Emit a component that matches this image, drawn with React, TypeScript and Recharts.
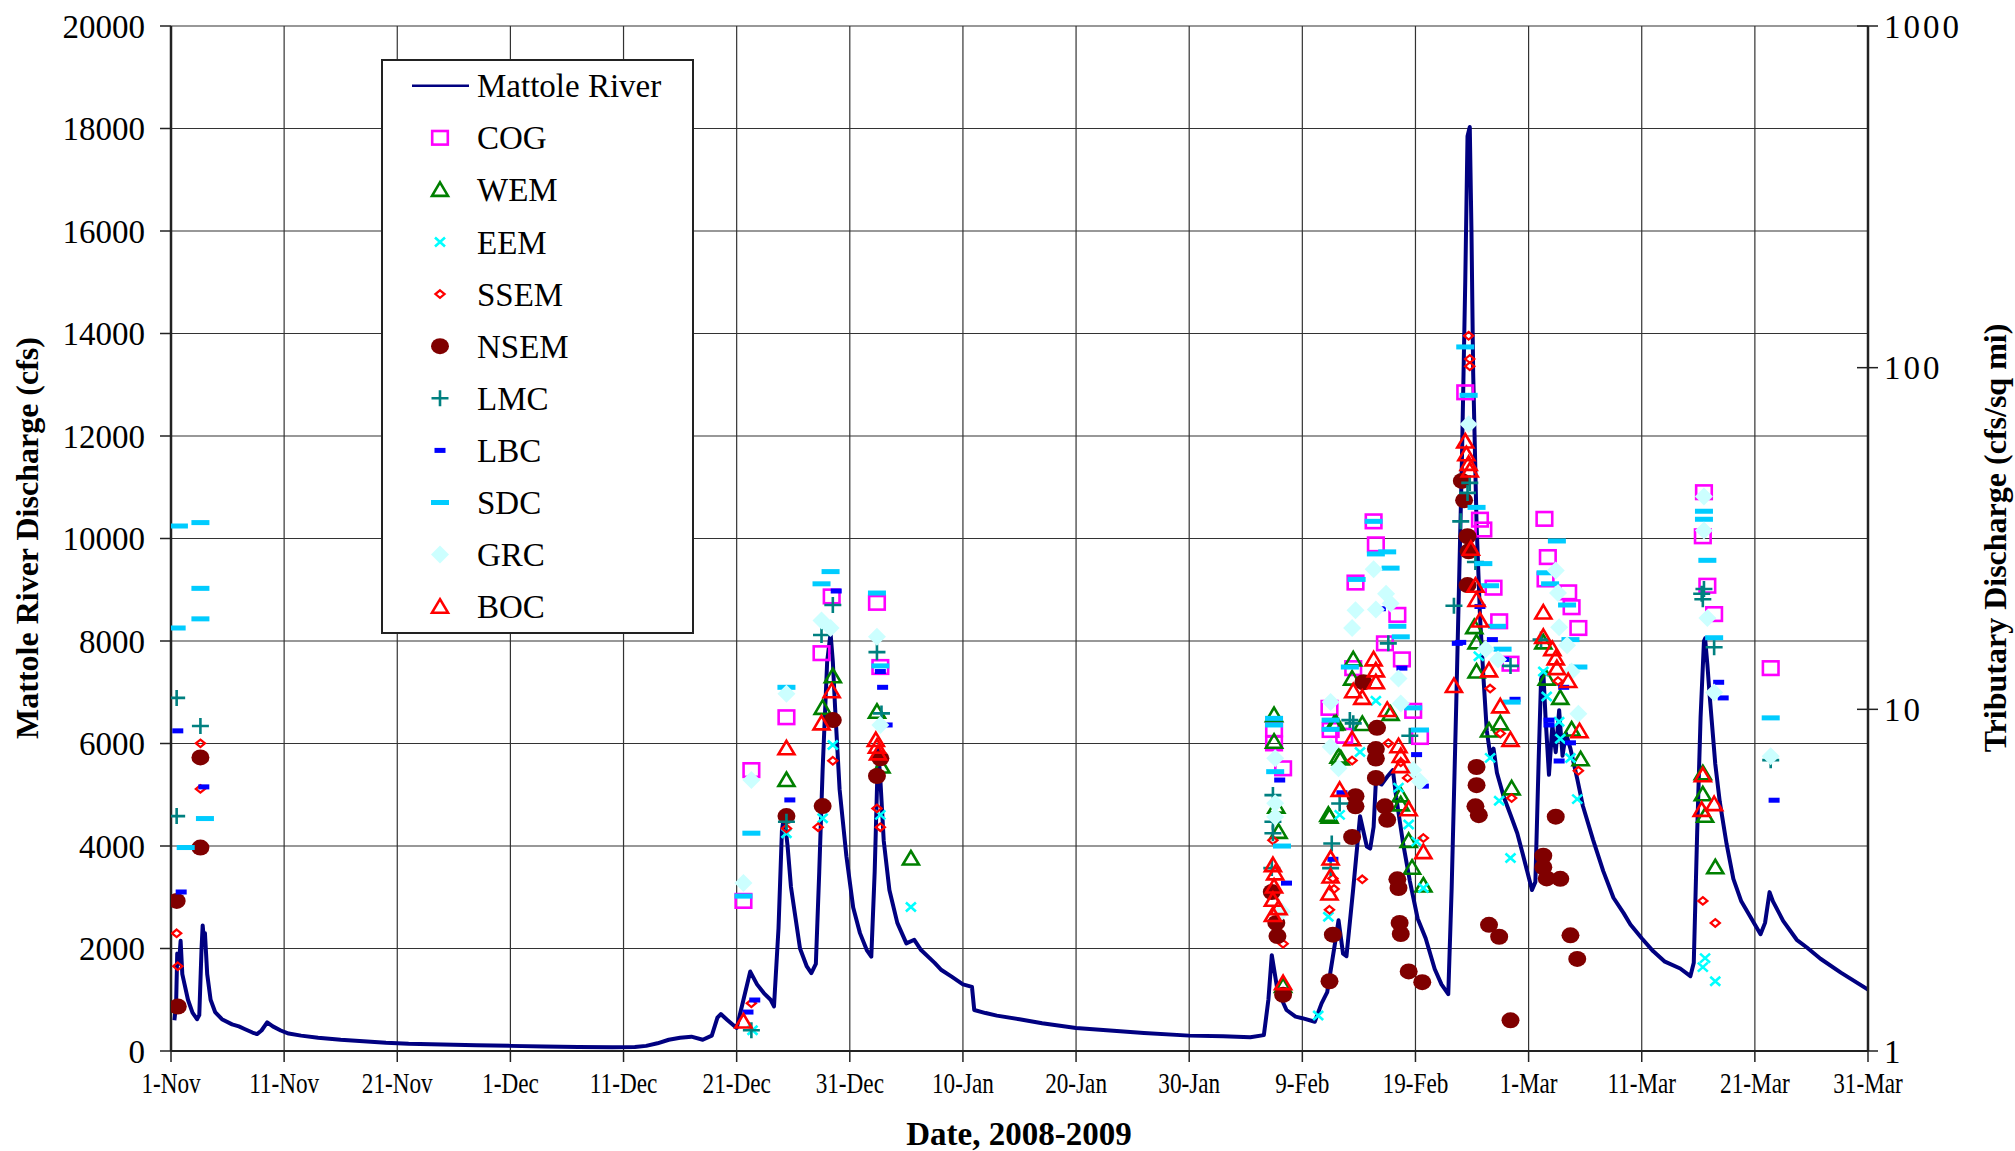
import React from "react";
import {
  ComposedChart,
  Line,
  Scatter,
  XAxis,
  YAxis,
  CartesianGrid,
  Legend,
} from "recharts";

const W = 2015;
const H = 1151;
const FONT = '"Liberation Serif", "Times New Roman", serif';

// x is days after 1-Nov-2008
const dateTicks = [0, 10, 20, 30, 40, 50, 60, 70, 80, 90, 100, 110, 120, 130, 140, 150];
const dateLabels = [
  "1-Nov", "11-Nov", "21-Nov", "1-Dec", "11-Dec", "21-Dec", "31-Dec", "10-Jan",
  "20-Jan", "30-Jan", "9-Feb", "19-Feb", "1-Mar", "11-Mar", "21-Mar", "31-Mar",
];
const flowTicks = [0, 2000, 4000, 6000, 8000, 10000, 12000, 14000, 16000, 18000, 20000];
const tribTicks = [1, 10, 100, 1000];

// Mattole River discharge (cfs): [day, flow]
const mattoleRiver: [number, number][] = [
  [0.3, 600], [0.45, 900], [0.55, 1900], [0.7, 1700], [0.85, 2150], [1.0, 1500], [1.2, 1300],
  [1.5, 1000], [1.9, 750], [2.3, 620], [2.5, 700], [2.7, 2000], [2.8, 2450], [2.9, 2200],
  [3.0, 2300], [3.2, 1500], [3.5, 1000], [3.9, 760], [4.5, 620], [5.4, 520], [6.0, 480],
  [6.5, 430], [7.2, 360], [7.6, 330], [8.0, 400], [8.5, 560], [9.0, 480], [9.7, 400],
  [10.4, 340], [11.5, 300], [13.0, 260], [15, 220], [17, 190], [19, 160], [21, 140],
  [23, 130], [25, 120], [27, 110], [30, 100], [33, 90], [36, 80], [39, 75], [41, 80],
  [42, 100], [43, 150], [44, 220], [45, 260], [46, 280], [47, 220], [47.8, 300], [48.3, 650],
  [48.6, 720], [49.2, 600], [50.0, 450], [50.6, 1000], [51.2, 1550], [51.8, 1300], [52.4, 1130],
  [53.0, 1000], [53.3, 870], [53.7, 2400], [54.0, 4300], [54.2, 4600], [54.5, 4000], [54.8, 3200],
  [55.2, 2600], [55.6, 2000], [56.2, 1650], [56.6, 1520], [57.0, 1700], [57.3, 3500], [57.6, 5500],
  [58.0, 7600], [58.3, 8150], [58.5, 7600], [58.7, 6700], [59.1, 5100], [59.7, 3800], [60.3, 2800],
  [60.9, 2300], [61.5, 1970], [61.9, 1840], [62.2, 3500], [62.5, 5900], [62.7, 5300], [63.0, 4100],
  [63.5, 3140], [64.2, 2500], [65.0, 2100], [65.7, 2170], [66.3, 1970], [67.5, 1720], [68.1, 1580],
  [69.0, 1450], [70.0, 1300], [70.8, 1250], [71.0, 800], [72, 740], [73, 690], [75, 620],
  [77, 540], [80, 450], [83, 400], [86, 350], [90, 300], [93, 290], [95.4, 270], [96.6, 310],
  [97.0, 1000], [97.3, 1870], [97.8, 1190], [98.6, 800], [99.4, 670], [100.0, 640], [101.1, 570],
  [101.7, 930], [102.2, 1150], [102.9, 2120], [103.2, 2550], [103.6, 1900], [103.9, 1850],
  [104.5, 3170], [105.1, 4580], [105.7, 3990], [106.0, 3950], [106.3, 4370], [106.5, 5260],
  [107.0, 5200], [107.5, 5350], [108.0, 5480], [108.3, 4950], [108.9, 4060], [109.5, 3320],
  [110.2, 2580], [110.9, 2200], [111.7, 1600], [112.3, 1300], [112.9, 1110], [113.2, 3180],
  [113.6, 6730], [114.1, 11460], [114.4, 15000], [114.6, 17850], [114.8, 18030], [114.95, 16000],
  [115.1, 13240], [115.4, 10280], [115.7, 8510], [116.0, 7320], [116.3, 6260], [116.6, 5790],
  [116.9, 5900], [117.2, 5430], [117.8, 4960], [118.4, 4610], [119.0, 4250], [119.5, 3830],
  [120.0, 3400], [120.3, 3140], [120.6, 3300], [120.9, 5760], [121.1, 7250], [121.3, 7400],
  [121.5, 6500], [121.8, 5390], [122.1, 6350], [122.4, 5830], [122.7, 6650], [123.0, 5760],
  [123.3, 6200], [123.7, 5900], [124.3, 5310], [124.8, 4780], [125.7, 4120], [126.6, 3510],
  [127.5, 2990], [128.4, 2690], [129.0, 2470], [130, 2200], [131, 1950], [132, 1750],
  [133.4, 1610], [134.3, 1460], [134.6, 1720], [134.9, 4260], [135.2, 6500], [135.5, 8000],
  [135.6, 8050], [135.8, 7550], [136.0, 6950], [136.5, 5600], [136.9, 4860], [137.5, 4040],
  [138.1, 3360], [138.8, 2920], [139.6, 2620], [140.5, 2280], [140.9, 2500], [141.3, 3100],
  [141.6, 2920], [142.5, 2540], [143.7, 2170], [144.6, 2020], [145.8, 1800], [147.6, 1530],
  [150, 1200],
];

// tributary discharge (cfs/sq mi): [day, value]
const COG: [number, number][] = [
  [50.6, 2.75], [51.3, 6.64], [54.4, 9.48], [58.4, 21.4], [57.5, 14.6], [62.4, 20.5], [62.7, 13.3],
  [97.5, 8.74], [97.5, 7.95], [98.3, 6.72], [102.4, 10.1], [102.5, 8.7],
  [106.3, 35.5], [106.5, 30.4], [104.7, 23.5], [108.4, 18.9], [107.3, 15.6], [108.8, 14.0],
  [104.5, 13.2], [109.8, 9.9], [103.7, 8.37], [110.4, 8.3],
  [114.4, 84.7], [115.7, 35.9], [116.0, 33.6], [116.9, 22.7], [117.4, 18.1], [118.4, 13.6],
  [121.4, 36.1], [121.7, 27.9], [121.5, 24.0], [123.5, 22.0], [123.8, 19.9], [124.4, 17.3],
  [135.5, 43.2], [135.4, 32.1], [135.8, 23.0], [136.4, 19.0], [141.4, 13.2],
];
const WEM: [number, number][] = [
  [54.4, 6.21], [58.5, 12.5], [57.6, 10.1], [62.4, 9.84], [62.8, 6.8], [65.4, 3.66],
  [97.5, 9.62], [97.5, 8.04], [97.7, 5.19], [97.9, 4.38], [98.3, 1.55], [103.0, 9.1], [103.2, 7.27],
  [102.3, 4.91], [104.5, 14.0], [104.4, 12.3], [107.8, 9.7], [102.8, 9.06], [105.3, 9.06],
  [103.4, 7.18], [108.7, 5.6], [108.7, 5.27], [102.4, 4.85], [109.4, 4.12], [109.7, 3.44], [110.7, 3.05],
  [115.2, 17.4], [115.4, 15.7], [115.4, 12.9], [117.5, 9.1], [116.5, 8.67], [118.5, 5.87],
  [121.3, 15.7], [121.6, 12.3], [122.8, 10.8], [123.8, 8.73], [124.6, 7.14],
  [135.4, 6.5], [135.4, 5.64], [135.6, 4.88], [136.5, 3.45],
];
const EEM: [number, number][] = [
  [51.4, 1.15], [54.4, 4.34], [58.5, 7.86], [57.6, 4.8], [62.7, 4.91], [65.4, 2.64],
  [103.3, 4.91], [102.3, 2.47], [101.4, 1.27],
  [106.5, 10.6], [105.1, 7.5], [108.5, 5.9], [109.4, 4.6], [110.1, 4.1], [110.7, 3.0],
  [115.6, 14.3], [116.6, 7.21], [117.4, 5.4], [118.4, 3.67],
  [121.3, 12.9], [121.6, 10.9], [122.7, 9.2], [122.8, 8.2], [123.7, 7.2], [124.3, 5.46],
  [135.6, 1.87], [135.4, 1.76], [136.5, 1.6],
];
const SSEM: [number, number][] = [
  [2.6, 7.95], [2.6, 5.85], [0.5, 2.21], [0.6, 1.77],
  [51.3, 1.38], [54.4, 4.48], [58.5, 7.07], [57.2, 4.52], [62.4, 5.13], [62.7, 4.52],
  [97.4, 4.14], [98.3, 2.06], [102.7, 3.2], [102.4, 2.59],
  [107.6, 7.96], [104.4, 7.08], [108.7, 7.0], [109.3, 6.3], [110.7, 4.2], [105.3, 3.18], [102.8, 2.98],
  [114.7, 124], [114.8, 106], [114.8, 101], [116.6, 11.5], [117.5, 8.5], [118.5, 5.5],
  [122.6, 12.1], [124.4, 6.61],
  [135.4, 2.75], [136.5, 2.37],
];
const NSEM: [number, number][] = [
  [2.6, 7.23], [2.6, 3.94], [0.5, 2.75], [0.6, 1.35],
  [54.4, 4.87], [58.5, 9.3], [57.6, 5.21], [62.7, 7.19], [62.4, 6.38],
  [97.3, 2.92], [97.7, 2.37], [97.8, 2.17], [98.3, 1.46], [102.7, 2.19], [102.4, 1.6],
  [105.4, 12.0], [106.6, 8.83], [106.5, 7.65], [106.5, 7.18], [106.5, 6.3], [104.7, 5.57],
  [104.7, 5.2], [107.3, 5.2], [107.5, 4.75], [104.4, 4.23], [108.4, 3.18], [108.5, 3.0],
  [108.6, 2.37], [108.7, 2.2], [109.4, 1.71], [110.6, 1.59],
  [114.1, 46.6], [114.3, 40.9], [114.6, 32.1], [114.7, 29.0], [114.6, 23.1], [115.4, 6.78],
  [115.4, 6.0], [115.3, 5.2], [115.6, 4.9], [116.5, 2.34], [117.4, 2.16], [118.4, 1.23],
  [122.4, 4.85], [121.3, 3.73], [121.3, 3.45], [121.6, 3.2], [122.8, 3.19], [123.7, 2.18], [124.3, 1.86],
];
const LMC: [number, number][] = [
  [0.5, 10.8], [2.6, 8.94], [0.5, 4.87],
  [51.3, 1.15], [54.4, 4.69], [58.5, 20.2], [57.5, 16.5], [62.4, 14.7], [62.8, 9.73],
  [97.4, 5.61], [97.4, 4.69], [97.4, 4.34], [97.3, 3.43], [104.2, 9.3], [102.6, 4.05], [102.5, 3.43],
  [107.6, 15.6], [104.5, 9.1], [109.5, 8.37], [103.3, 5.3], [113.4, 20.1],
  [114.8, 46], [114.6, 43], [114.0, 35.5], [115.3, 27], [118.4, 13.4],
  [121.1, 16],
  [135.5, 22.5], [135.3, 21.8], [135.4, 21.0], [136.4, 15.2], [141.4, 7.1],
];
const LBC: [number, number][] = [
  [0.6, 8.65], [2.9, 5.93], [0.9, 2.92],
  [51.0, 1.3], [51.6, 1.41], [54.7, 5.43], [58.8, 22.2], [62.7, 12.9], [62.9, 11.6], [63.3, 9.0],
  [98.0, 6.21], [98.6, 3.1], [102.7, 3.64],
  [106.9, 19.7], [108.8, 13.2], [110.1, 7.37], [110.7, 5.96], [103.5, 5.7], [113.7, 15.6],
  [114.0, 15.7], [115.7, 20.0], [116.8, 16.0], [117.8, 14.0], [118.8, 10.7],
  [121.8, 9.3], [121.8, 9.0], [123.1, 11.6], [123.7, 7.98], [122.7, 7.06],
  [136.8, 12.0], [137.2, 10.8], [141.7, 5.42],
];
const SDC: [number, number][] = [
  [0.7, 34.4], [2.6, 35.2], [2.6, 22.6], [2.6, 18.4], [0.5, 17.3], [3.0, 4.79], [1.3, 3.94],
  [50.6, 2.84], [51.3, 4.34], [54.4, 11.6], [58.3, 25.3], [57.5, 23.3], [62.4, 21.9], [62.7, 13.4],
  [97.5, 9.41], [97.5, 9.0], [97.6, 6.57], [98.2, 3.98], [102.5, 9.3], [102.5, 8.74],
  [106.3, 35.5], [106.5, 28.5], [107.5, 28.9], [107.8, 25.9], [104.8, 24.0], [108.4, 17.5],
  [108.7, 16.3], [104.2, 13.3], [109.8, 10.1], [110.4, 8.7],
  [114.4, 115], [114.7, 83], [115.4, 39], [116.0, 26.7], [116.6, 23], [117.2, 17.5], [117.7, 15], [118.5, 10.5],
  [122.5, 31.1], [121.5, 25.1], [121.9, 23.3], [123.4, 20.2], [123.7, 16.0], [124.4, 13.3],
  [135.5, 38.0], [135.5, 36.0], [135.8, 27.3], [136.4, 16.2], [141.4, 9.44],
];
const GRC: [number, number][] = [
  [50.6, 3.1], [51.3, 6.21], [54.4, 11.1], [57.5, 18.2], [58.3, 17.3], [62.4, 16.3], [62.7, 9.0],
  [97.6, 7.19], [97.6, 5.31], [97.6, 4.85], [98.2, 2.56], [102.5, 10.5], [102.5, 7.77], [103.2, 6.72],
  [106.3, 25.7], [107.4, 21.8], [107.8, 20.4], [104.7, 19.5], [106.5, 19.6], [104.4, 17.3],
  [108.5, 12.3], [108.7, 10.4], [109.8, 6.64], [110.4, 6.15],
  [114.7, 68.3], [116.2, 15.0], [117.3, 14.0],
  [122.4, 25.5], [122.6, 21.9], [122.7, 17.4], [123.4, 15.4], [123.8, 12.9], [124.4, 9.7],
  [135.5, 42.0], [135.5, 33.4], [135.8, 18.5], [136.4, 11.2], [141.4, 7.29],
];
const BOC: [number, number][] = [
  [50.6, 1.22], [54.4, 7.69], [58.4, 11.3], [57.5, 9.1], [62.3, 8.13], [62.4, 7.77], [62.5, 7.43],
  [97.4, 3.5], [97.6, 3.31], [97.5, 3.03], [97.4, 2.77], [97.9, 2.62], [97.4, 2.5], [98.3, 1.58],
  [103.3, 5.81], [102.5, 3.66], [102.5, 3.24], [102.4, 2.89],
  [106.3, 14.0], [106.5, 13.0], [106.5, 12.0], [104.5, 11.3], [105.3, 10.8], [107.5, 9.96],
  [104.4, 8.17], [108.5, 7.8], [108.7, 7.3], [108.7, 6.82], [109.4, 5.1], [110.7, 3.82], [113.4, 11.7],
  [114.4, 60.8], [114.5, 55.8], [114.7, 52.3], [114.8, 50], [114.9, 29.5], [115.3, 23], [115.4, 20.9],
  [115.7, 18.2], [116.5, 13.0], [117.5, 10.2], [118.4, 8.14],
  [121.3, 19.2], [121.3, 16.3], [122.1, 15.0], [122.4, 14.1], [122.5, 13.2], [123.5, 12.1], [124.5, 8.63],
  [135.4, 6.41], [136.4, 5.28], [135.3, 5.08],
];

type Draw = (x: number, y: number) => React.ReactElement;

const tri = (c: string): Draw => (x, y) => (
  <path d={`M${x},${y - 7.5}L${x + 8},${y + 6}L${x - 8},${y + 6}Z`} fill="none" stroke={c} strokeWidth={2.6} />
);

const markers: Record<string, Draw> = {
  COG: (x, y) => (
    <rect x={x - 7.8} y={y - 6.8} width={15.6} height={13.6} fill="none" stroke="#FF00FF" strokeWidth={2.6} />
  ),
  WEM: tri("#008000"),
  EEM: (x, y) => (
    <path d={`M${x - 5},${y - 4.5}L${x + 5},${y + 4.5}M${x - 5},${y + 4.5}L${x + 5},${y - 4.5}`} stroke="#00FFFF" strokeWidth={2.6} />
  ),
  SSEM: (x, y) => (
    <path d={`M${x},${y - 3.8}L${x + 4.6},${y}L${x},${y + 3.8}L${x - 4.6},${y}Z`} fill="none" stroke="#FF0000" strokeWidth={2.2} />
  ),
  NSEM: (x, y) => <ellipse cx={x} cy={y} rx={9} ry={8} fill="#800000" />,
  LMC: (x, y) => (
    <path d={`M${x - 8.5},${y}H${x + 8.5}M${x},${y - 8}V${y + 8}`} stroke="#008080" strokeWidth={2.6} />
  ),
  LBC: (x, y) => <rect x={x - 5.5} y={y - 2.5} width={11} height={5} fill="#0000FF" />,
  SDC: (x, y) => <rect x={x - 9} y={y - 2.5} width={18} height={5} fill="#00CCFF" />,
  GRC: (x, y) => <path d={`M${x},${y - 9}L${x + 9},${y}L${x},${y + 9}L${x - 9},${y}Z`} fill="#CCFFFF" />,
  BOC: tri("#FF0000"),
};

const stations: { name: string; rows: [number, number][] }[] = [
  { name: "COG", rows: COG },
  { name: "WEM", rows: WEM },
  { name: "EEM", rows: EEM },
  { name: "SSEM", rows: SSEM },
  { name: "NSEM", rows: NSEM },
  { name: "LMC", rows: LMC },
  { name: "LBC", rows: LBC },
  { name: "SDC", rows: SDC },
  { name: "GRC", rows: GRC },
  { name: "BOC", rows: BOC },
];

const riverData = mattoleRiver.map(([day, q]) => ({ day, q }));

const DateTick = ({ x, y, payload }: any) => (
  <g transform={`translate(${x},${y})`}>
    <text textAnchor="middle" dy="0.71em" fontSize={29} fontFamily={FONT} fill="#000" transform="scale(0.8,1)">
      {dateLabels[dateTicks.indexOf(payload.value)]}
    </text>
  </g>
);

const TribTick = ({ x, y, payload }: any) => {
  const axisX = x - 6 - 10;
  return (
    <g>
      <line x1={axisX - 11} x2={axisX} y1={y} y2={y} stroke="#222" strokeWidth={1.5} />
      <text x={x} y={y} dy="0.355em" textAnchor="start" fontSize={33} letterSpacing={3} fontFamily={FONT} fill="#000">
        {payload.value}
      </text>
    </g>
  );
};

const renderLegend = () => (
  <svg width={313} height={575}>
    <rect x={1} y={1} width={311} height={573} fill="#fff" stroke="#222" strokeWidth={2} />
    <line x1={31} x2={88} y1={26.7} y2={26.7} stroke="#000080" strokeWidth={2.5} />
    <text x={96} y={26.7} dy="0.35em" fontSize={33} fontFamily={FONT} fill="#000">
      Mattole River
    </text>
    {stations.map((s, i) => {
      const cy = 26.7 + (i + 1) * 52.1;
      return (
        <g key={s.name}>
          {markers[s.name](59, cy)}
          <text x={96} y={cy} dy="0.35em" fontSize={33} fontFamily={FONT} fill="#000">
            {s.name}
          </text>
        </g>
      );
    })}
  </svg>
);

const titleStyle: React.CSSProperties = {
  position: "absolute",
  transform: "translate(-50%, -50%) rotate(-90deg)",
  whiteSpace: "nowrap",
  fontFamily: FONT,
  fontWeight: "bold",
  fontSize: 32,
  color: "#000",
};

export default function App() {
  return (
    <div style={{ position: "absolute", left: 0, top: 0, width: W, height: H, background: "#fff" }}>
      <ComposedChart
        width={W}
        height={H}
        margin={{ top: 26, right: 0, bottom: 0, left: 0 }}
        style={{ fontFamily: FONT }}
      >
        <CartesianGrid yAxisId="left" stroke="#333" strokeWidth={1.2} />
        <XAxis
          dataKey="day"
          type="number"
          domain={[0, 150]}
          ticks={dateTicks}
          interval={0}
          allowDataOverflow
          height={100}
          tickSize={11}
          tickMargin={10}
          axisLine={{ stroke: "#222", strokeWidth: 2 }}
          tickLine={{ stroke: "#222", strokeWidth: 1.5 }}
          tick={<DateTick />}
        />
        <YAxis
          yAxisId="left"
          type="number"
          domain={[0, 20000]}
          ticks={flowTicks}
          interval={0}
          allowDataOverflow
          width={171}
          tickSize={11}
          tickMargin={15}
          axisLine={{ stroke: "#222", strokeWidth: 2.5 }}
          tickLine={{ stroke: "#222", strokeWidth: 1.5 }}
          tick={{ fontSize: 33, fill: "#000", fontFamily: FONT }}
        />
        <YAxis
          yAxisId="right"
          orientation="right"
          dataKey="v"
          type="number"
          scale="log"
          domain={[1, 1000]}
          ticks={tribTicks}
          interval={0}
          allowDataOverflow
          width={147}
          tickSize={10}
          tickMargin={6}
          axisLine={{ stroke: "#222", strokeWidth: 2.5 }}
          tickLine={{ stroke: "#222", strokeWidth: 1.5 }}
          tick={<TribTick />}
        />
        <Legend
          layout="vertical"
          align="center"
          verticalAlign="middle"
          wrapperStyle={{ left: 381, top: 59, width: 313, height: 575 }}
          content={renderLegend}
        />
        <Line
          yAxisId="left"
          data={riverData}
          dataKey="q"
          name="Mattole River"
          type="linear"
          stroke="#000080"
          strokeWidth={4}
          strokeLinejoin="round"
          dot={false}
          activeDot={false}
          isAnimationActive={false}
        />
        {stations.map((s) => (
          <Scatter
            key={s.name}
            yAxisId="right"
            name={s.name}
            data={s.rows.map(([day, v]) => ({ day, v }))}
            dataKey="v"
            isAnimationActive={false}
            shape={(p: any) => markers[s.name](p.cx, p.cy)}
          />
        ))}
      </ComposedChart>
      <div style={{ ...titleStyle, left: 27, top: 538 }}>Mattole River Discharge (cfs)</div>
      <div style={{ ...titleStyle, left: 1995, top: 538 }}>Tributary Discharge (cfs/sq mi)</div>
      <div style={{ ...titleStyle, transform: "translate(-50%, -50%)", fontSize: 33, left: 1019, top: 1134 }}>
        Date, 2008-2009
      </div>
    </div>
  );
}
